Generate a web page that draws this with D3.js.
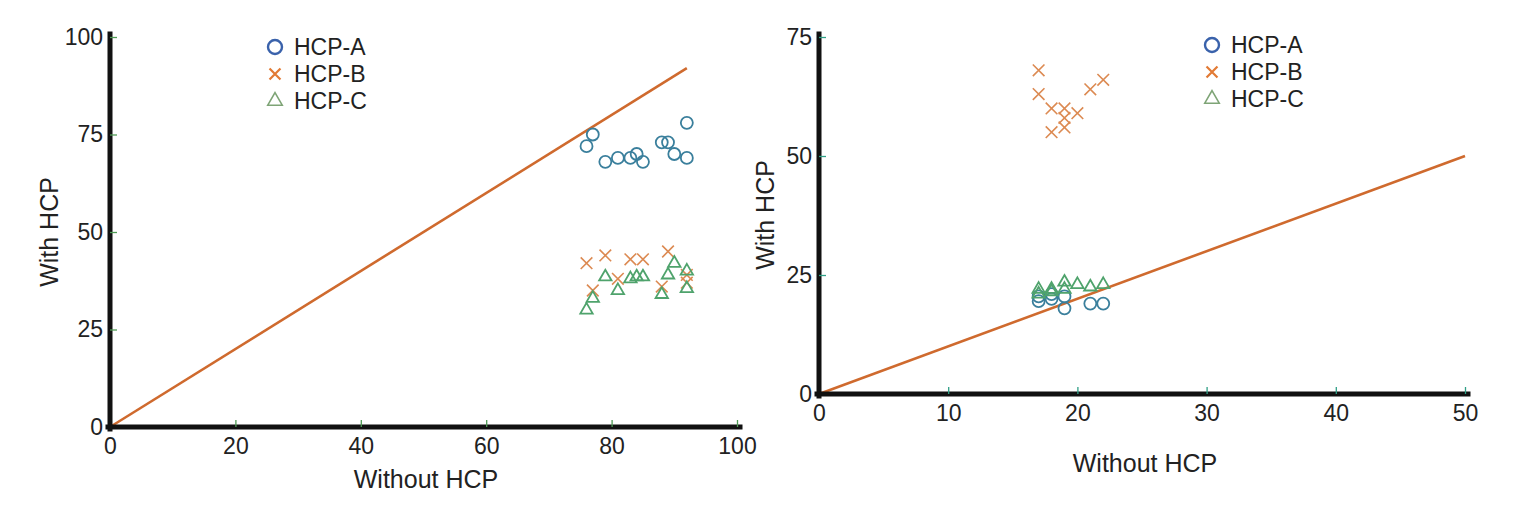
<!DOCTYPE html>
<html>
<head>
<meta charset="utf-8">
<script src="https://cdn.jsdelivr.net/npm/d3@7"></script>
<style>
  body { margin: 0; background: #fff; }
  text { font-family: "Liberation Sans", Arial, sans-serif; fill: #222; }
</style>
</head>
<body>
<div id="chart"></div>
<script>
// ---- data ----
// left panel
var leftA_x = [76, 77, 79, 81, 83, 84, 85, 88, 89, 90, 92, 92];
var leftA_y = [72, 75, 68, 69, 69, 70, 68, 73, 73, 70, 78, 69];
var leftB_x = [76, 77, 79, 81, 83, 85, 88, 89, 92, 92];
var leftB_y = [42, 35, 44, 38, 43, 43, 36, 45, 39, 37];
var leftC_x = [76, 77, 79, 81, 83, 84, 85, 88, 89, 90, 92, 92];
var leftC_y = [30, 33, 38.5, 35, 38, 38.5, 38.5, 34, 39, 42, 40, 35.5];
var leftLineEnd = 92;
var leftXTicks = [0, 20, 40, 60, 80, 100];
var leftYTicks = [0, 25, 50, 75, 100];

// right panel
var rightA_x = [17, 17, 18, 18, 19, 19, 21, 22];
var rightA_y = [19.5, 20.5, 20, 21, 18, 20.5, 19, 19];
var rightB_x = [17, 17, 18, 19, 20, 19, 19, 18, 21, 22];
var rightB_y = [68, 63, 60, 60, 59, 58, 56, 55, 64, 66];
var rightC_x = [17, 17, 18, 18, 19, 19, 20, 21, 22];
var rightC_y = [22, 21, 21.5, 22, 23.5, 22, 23, 22.5, 23];
var rightLineEnd = 50;
var rightXTicks = [0, 10, 20, 30, 40, 50];
var rightYTicks = [0, 25, 50, 75];

var seriesNames = ["HCP-A", "HCP-B", "HCP-C"];

var W = 1526, H = 513;
var svg = d3.select("#chart").append("svg")
    .attr("width", W)
    .attr("height", H);

var colA = "#3a7f9c", colB = "#dc8a52", colC = "#4fa36c";
var legA = "#3a62ab", legB = "#e27a34", legC = "#7ea476";

function zip(xs, ys) { return xs.map(function(x, i) { return {x: x, y: ys[i]}; }); }

function panel(opt) {
    var xScale = d3.scaleLinear().domain(opt.xDomain).range(opt.xRange);
    var yScale = d3.scaleLinear().domain(opt.yDomain).range(opt.yRange);
    var g = svg.append("g");

    // diagonal y = x
    g.append("line")
        .attr("x1", xScale(0)).attr("y1", yScale(0))
        .attr("x2", xScale(opt.lineEnd)).attr("y2", yScale(opt.lineEnd))
        .attr("stroke", "#cf6a2e")
        .attr("stroke-width", 2.6);

    // axes
    var xAxis = d3.axisBottom(xScale).tickValues(opt.xTicks)
        .tickSizeInner(-7).tickSizeOuter(0).tickPadding(11);
    var yAxis = d3.axisLeft(yScale).tickValues(opt.yTicks)
        .tickSizeInner(-7).tickSizeOuter(0).tickPadding(7);

    var gx = g.append("g").attr("transform", "translate(0," + yScale(0) + ")").call(xAxis);
    var gy = g.append("g").attr("transform", "translate(" + xScale(0) + ",0)").call(yAxis);
    [gx, gy].forEach(function(a) {
        a.select(".domain").attr("stroke", "#111").attr("stroke-width", 5)
            .attr("stroke-linecap", "square");
        a.selectAll(".tick line").attr("stroke", opt.tickColor).attr("stroke-width", 1.3);
        a.selectAll(".tick text").style("font-size", "23px").attr("fill", "#333")
            .style("font-family", "'Liberation Sans', Arial, sans-serif");
    });
    gx.select(".domain").attr("d", "M" + (xScale(0) - 2) + ",0H" + (opt.xRange[1] + 3));
    gy.select(".domain").attr("d", "M0," + (yScale(0) + 2) + "V" + (opt.yRange[1] - 3));
    gx.select(".tick line").remove();
    gy.select(".tick line").remove();

    // axis titles
    g.append("text")
        .attr("x", opt.xTitle[0]).attr("y", opt.xTitle[1])
        .attr("text-anchor", "middle")
        .style("font-size", "25px")
        .text("Without HCP");
    g.append("text")
        .attr("transform", "translate(" + opt.yTitle[0] + "," + opt.yTitle[1] + ") rotate(-90)")
        .attr("text-anchor", "middle")
        .style("font-size", "25px")
        .text("With HCP");

    // points
    g.append("g").selectAll("circle")
        .data(zip(opt.a_x, opt.a_y))
        .enter().append("circle")
        .attr("cx", function(d) { return xScale(d.x); })
        .attr("cy", function(d) { return yScale(d.y); })
        .attr("r", 6)
        .attr("fill", "none")
        .attr("stroke", colA)
        .attr("stroke-width", 1.8);

    g.append("g").selectAll("path")
        .data(zip(opt.b_x, opt.b_y))
        .enter().append("path")
        .attr("d", d3.symbol(d3.symbolTimes, 90))
        .attr("transform", function(d) { return "translate(" + xScale(d.x) + "," + yScale(d.y) + ")"; })
        .attr("fill", "none")
        .attr("stroke", colB)
        .attr("stroke-width", 1.6);

    g.append("g").selectAll("path")
        .data(zip(opt.c_x, opt.c_y))
        .enter().append("path")
        .attr("d", d3.symbol(d3.symbolTriangle2, 110))
        .attr("transform", function(d) { return "translate(" + xScale(d.x) + "," + yScale(d.y) + ")"; })
        .attr("fill", "none")
        .attr("stroke", colC)
        .attr("stroke-width", 1.8);

    // legend
    var lg = g.append("g").attr("transform", "translate(" + opt.legend[0] + "," + opt.legend[1] + ")");
    var rows = lg.selectAll("g").data(seriesNames).enter().append("g")
        .attr("transform", function(d, i) { return "translate(0," + i * 27 + ")"; });
    rows.append("text")
        .attr("x", 19).attr("y", 0).attr("dy", "0.36em")
        .style("font-size", "23px")
        .text(function(d) { return d; });
    rows.filter(function(d, i) { return i == 0; }).append("circle")
        .attr("r", 7).attr("fill", "none").attr("stroke", legA).attr("stroke-width", 2.4);
    rows.filter(function(d, i) { return i == 1; }).append("path")
        .attr("d", d3.symbol(d3.symbolTimes, 80))
        .attr("fill", "none").attr("stroke", legB).attr("stroke-width", 2.2);
    rows.filter(function(d, i) { return i == 2; }).append("path")
        .attr("d", d3.symbol(d3.symbolTriangle2, 150))
        .attr("fill", "none").attr("stroke", legC).attr("stroke-width", 1.6);
}

panel({
    xDomain: [0, 100], xRange: [110, 737],
    yDomain: [0, 100], yRange: [427, 37],
    xTicks: leftXTicks, yTicks: leftYTicks, lineEnd: leftLineEnd,
    tickColor: "#4f9a55",
    a_x: leftA_x, a_y: leftA_y, b_x: leftB_x, b_y: leftB_y, c_x: leftC_x, c_y: leftC_y,
    xTitle: [426, 488], yTitle: [58, 232], legend: [275, 47]
});

panel({
    xDomain: [0, 50], xRange: [819, 1465],
    yDomain: [0, 75], yRange: [394, 37],
    xTicks: rightXTicks, yTicks: rightYTicks, lineEnd: rightLineEnd,
    tickColor: "#2f9f86",
    a_x: rightA_x, a_y: rightA_y, b_x: rightB_x, b_y: rightB_y, c_x: rightC_x, c_y: rightC_y,
    xTitle: [1145, 472], yTitle: [774, 215], legend: [1212, 45]
});
</script>
</body>
</html>
